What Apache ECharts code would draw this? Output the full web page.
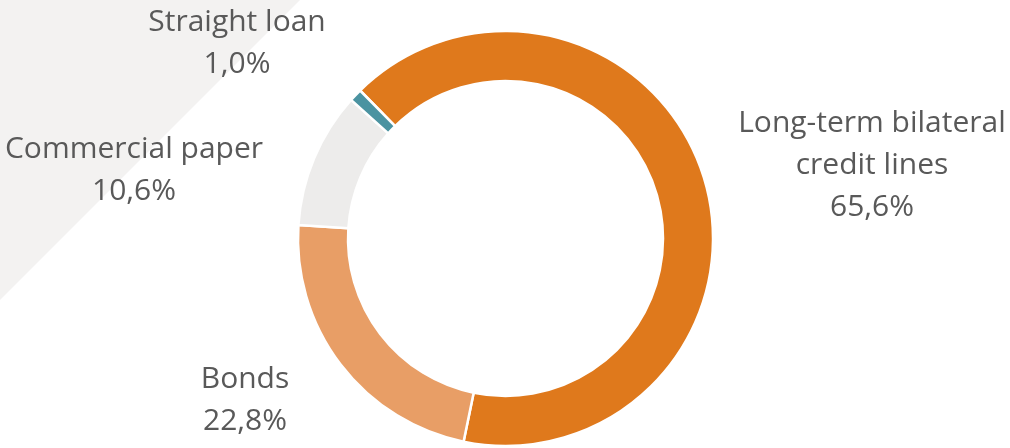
<!DOCTYPE html>
<html>
<head>
<meta charset="utf-8">
<script src="https://cdn.jsdelivr.net/npm/echarts@6/dist/echarts.min.js"></script>
<style>
html,body{margin:0;padding:0;background:#fff;}
#chart{width:1010px;height:448px;}
</style>
</head>
<body>
<div id="chart"></div>
<script>
var categories = ['Long-term bilateral\ncredit lines', 'Bonds', 'Commercial paper', 'Straight loan'];
var values = [65.6, 22.8, 10.6, 1.0];
var valueLabels = ['65,6%', '22,8%', '10,6%', '1,0%'];
var colors = ['#DF791C', '#E89E66', '#EDECEB', '#4B93A1'];

// label anchor (centre of text block) per slice
var labelPos = [[872, 165], [245, 400], [134, 170], [237, 43]];

var chart = echarts.init(document.getElementById('chart'), null, {renderer: 'canvas'});
var option = {
  backgroundColor: '#ffffff',
  animation: false,
  graphic: [{
    type: 'polygon',
    z: -10,
    shape: {points: [[0, 0], [300, 0], [0, 300]]},
    style: {fill: '#F3F2F1'}
  }],
  series: [{
    type: 'pie',
    center: [505.5, 238.5],
    radius: [157.5, 207.5],
    startAngle: 134.5,
    clockwise: true,
    avoidLabelOverlap: false,
    itemStyle: {borderColor: '#ffffff', borderWidth: 2.5},
    label: {
      show: true,
      position: 'outside',
      formatter: function (p) { return categories[p.dataIndex] + '\n' + valueLabels[p.dataIndex]; },
      color: '#595959',
      fontFamily: '"Open Sans", sans-serif',
      fontSize: 30,
      lineHeight: 42,
      align: 'center'
    },
    labelLine: {show: false},
    labelLayout: function (params) {
      var p = labelPos[params.dataIndex];
      return {x: p[0], y: p[1], align: 'center', verticalAlign: 'middle'};
    },
    emphasis: {disabled: true},
    data: categories.map(function (c, i) {
      return {name: c, value: values[i], itemStyle: {color: colors[i]}};
    })
  }]
};
chart.setOption(option);
</script>
</body>
</html>
